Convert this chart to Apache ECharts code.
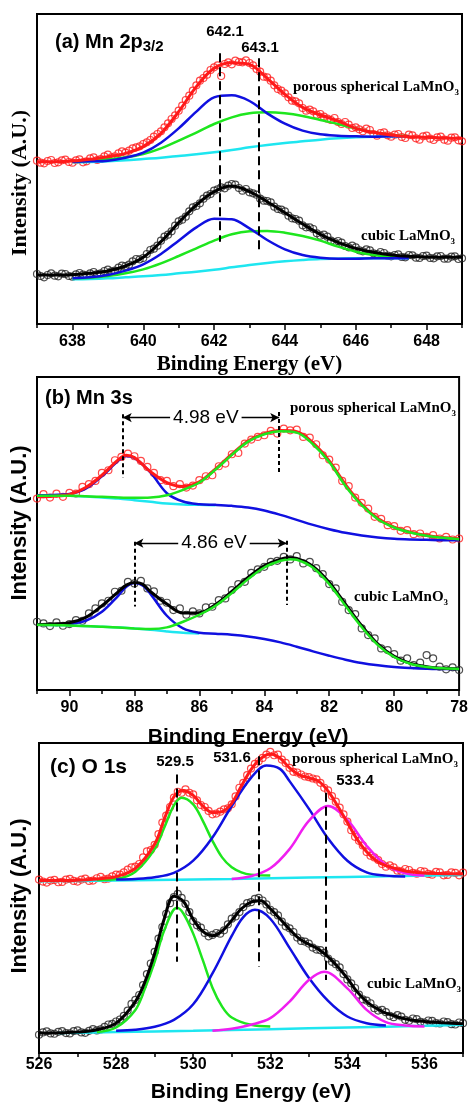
<!DOCTYPE html>
<html>
<head>
<meta charset="utf-8">
<title>XPS spectra of porous spherical and cubic LaMnO3</title>
<script src="https://cdn.jsdelivr.net/npm/echarts@6/dist/echarts.min.js"></script>
<style>
  html, body { margin: 0; padding: 0; background: #fff; }
  #chart { width: 471px; height: 1104px; }
</style>
</head>
<body>
<div id="chart"></div>
<script>
// ---------- (a) Mn 2p3/2 ----------
// raw scans, 0.1 eV apart starting at 637 eV
const aPorousScan = [490,484,482,489,492,483,485,491,493,486,
  484,491,494,485,488,497,500,492,495,503,
  508,500,503,512,518,514,520,527,530,533,
  540,545,552,562,570,578,590,602,615,626,
  640,655,672,685,700,716,730,738,748,762,
  770,776,744,780,785,779,790,786,785,791,
  783,776,765,757,742,740,730,716,705,700,
  692,680,670,668,662,648,640,643,638,628,
  630,622,616,612,618,606,600,606,598,588,
  590,584,578,586,582,570,565,573,575,566,
  562,568,570,561,558,568,566,557,553,563,
  565,556,552,560,562,553,550,559,560,551,548];
const aCubicScan = [150,144,140,147,152,145,143,151,150,144,
  142,149,153,148,146,152,156,150,152,159,
  163,158,160,169,175,174,178,188,195,194,
  198,210,222,226,235,250,262,268,278,295,
  308,313,322,338,350,354,362,376,385,390,
  400,404,410,407,415,420,418,408,400,405,
  395,392,388,376,370,369,365,352,345,343,
  338,325,317,315,310,296,290,290,285,272,
  265,268,262,250,246,249,244,234,230,235,
  230,221,218,224,221,212,210,216,213,205,
  203,207,209,201,200,207,206,199,198,204,
  205,198,197,203,204,196,196,202,203,195,197];
// fitted curves [energy, intensity]
const aPorousFit = [[637,487],[637.5,487],[638,489],[638.5,494],[639,502],[639.5,512],[640,532],[640.5,572],[641,637],[641.5,712],[642,767],[642.5,784],[643,779],[643.5,737],[644,689],[644.5,650],[645,627],[645.5,609],[646,587],[646.5,575],[647,567],[647.5,562],[648,560],[648.5,558],[649,557]];
const aPorousMn3 = [[638,487],[638.5,488],[639,490],[639.5,499],[640,514],[640.5,544],[641,587],[641.5,637],[642,680],[642.5,686],[643,669],[643.5,632],[644,601],[644.5,580],[645,569],[645.5,565],[646,563],[646.5,562],[647,563],[647.5,563]];
const aPorousMn4 = [[638,487],[638.5,490],[639,494],[639.5,500],[640,510],[640.5,527],[641,550],[641.5,574],[642,600],[642.5,620],[643,632],[643.5,635],[644,632],[644.5,624],[645,612],[645.5,600],[646,587],[646.5,575],[647,567],[647.5,563]];
const aPorousBase = [[638,485],[638.5,486],[639,488],[639.5,491],[640,495],[640.5,499],[641,504],[641.5,509],[642,515],[642.5,522],[643,530],[643.5,537],[644,543],[644.5,548],[645,553],[645.5,557],[646,560],[646.5,562],[647,563],[647.5,563]];
const aCubicFit = [[637,147],[637.5,147],[638,148],[638.5,152],[639,159],[639.5,174],[640,200],[640.5,247],[641,304],[641.5,357],[642,397],[642.5,414],[643,397],[643.5,367],[644,334],[644.5,300],[645,269],[645.5,245],[646,227],[646.5,215],[647,207],[647.5,203],[648,201],[648.5,200],[649,200]];
const aCubicMn3 = [[638,137],[638.5,140],[639,147],[639.5,160],[640,179],[640.5,210],[641,250],[641.5,290],[642,316],[642.5,314],[643,287],[643.5,252],[644,224],[644.5,207],[645,199],[645.5,196],[646,196],[646.5,197],[647,197],[647.5,197]];
const aCubicMn4 = [[638,137],[638.5,139],[639,144],[639.5,152],[640,164],[640.5,182],[641,204],[641.5,227],[642,250],[642.5,269],[643,278],[643.5,279],[644,274],[644.5,264],[645,250],[645.5,232],[646,217],[646.5,207],[647,201],[647.5,198]];
const aCubicBase = [[638,134],[638.5,135],[639,137],[639.5,140],[640,143],[640.5,147],[641,152],[641.5,157],[642,163],[642.5,170],[643,177],[643.5,183],[644,188],[644.5,192],[645,195],[645.5,196],[646,197],[646.5,197],[647,197],[647.5,197]];
const aPeakAt = [642.15, 643.25];
const aPeakSpan = [[812, 247], [797, 217]];
const aPeakLabels = ['642.1', '643.1'];
const aTicks = [638, 640, 642, 644, 646, 648];
const aMinor = [637, 639, 641, 643, 645, 647, 649];

// ---------- (b) Mn 3s ----------
// raw scans, 0.2 eV apart going down from 91 eV
const bPorousScan = [575,588,578,590,580,592,590,610,618,628,652,660,690,700,710,702,688,670,652,630,
  628,612,618,608,614,630,642,645,672,680,708,712,740,752,760,765,778,770,785,780,
  782,760,758,738,705,692,668,628,612,578,562,545,520,514,495,492,478,480,468,470,
  460,465,455,460,452,455];
const bCubicScan = [205,200,192,203,193,198,210,208,230,245,260,268,295,298,325,320,328,305,296,268,
  262,240,245,226,236,230,248,250,270,275,300,318,325,352,362,370,385,388,400,392,
  402,380,385,366,348,318,305,265,240,228,185,165,155,125,120,108,88,95,75,82,
  105,95,70,62,68,60];
const bPorousFit = [[91,580],[90.5,582],[90,587],[89.5,608],[89,645],[88.5,691],[88.25,705],[88,698],[87.5,655],[87,623],[86.5,611],[86,625],[85.5,664],[85,708],[84.5,748],[84,770],[83.5,779],[83,776],[82.5,742],[82,688],[81.5,617],[81,558],[80.5,515],[80,489],[79.5,474],[79,464],[78.5,458],[78,454]];
const bPorousLow = [[91,585],[90.5,586],[90,589],[89.5,605],[89,642],[88.5,688],[88.25,703],[88,697],[87.5,653],[87,591],[86.5,566],[86,558],[85.5,556],[85,553],[84.5,548],[84,539],[83.5,526],[83,511],[82.5,496],[82,483],[81.5,472],[81,464],[80.5,458],[80,454],[79.5,452],[79,451],[78.5,450],[78,450]];
const bPorousHigh = [[91,583],[90.5,583],[90,583],[89.5,582],[89,580],[88.5,578],[88,577],[87.5,578],[87,585],[86.5,601],[86,623],[85.5,662],[85,706],[84.5,746],[84,768],[83.5,777],[83,773],[82.5,738],[82,685],[81.5,613],[81,555],[80.5,513],[80,488],[79.5,473],[79,463],[78.5,457],[78,453]];
const bPorousBase = [[91,585],[90,583],[89,578],[88.5,575],[88,570],[87.5,565],[87,560],[86.5,557],[86,556],[85.5,555]];
const bCubicFit = [[91,196],[90.5,198],[90,202],[89.5,218],[89,253],[88.5,295],[88.25,315],[88,323],[87.75,318],[87.5,295],[87,258],[86.5,231],[86,232],[85.5,257],[85,296],[84.5,338],[84,373],[83.5,393],[83.2,397],[83,395],[82.5,371],[82,323],[81.5,258],[81,193],[80.5,138],[80,101],[79.5,80],[79,70],[78.5,65],[78,63]];
const bCubicLow = [[91,196],[90.5,196],[90,199],[89.5,208],[89,235],[88.5,283],[88.25,310],[88,321],[87.75,314],[87.5,288],[87,223],[86.5,185],[86,172],[85.5,169],[85,166],[84.5,161],[84,153],[83.5,143],[83,130],[82.5,116],[82,103],[81.5,91],[81,81],[80.5,74],[80,69],[79.5,66],[79,64],[78.5,63],[78,63]];
const bCubicHigh = [[91,196],[90,194],[89,190],[88,185],[87.5,183],[87,188],[86.5,205],[86,226],[85.5,253],[85,291],[84.5,333],[84,368],[83.5,388],[83.2,393],[83,391],[82.5,367],[82,318],[81.5,253],[81,189],[80.5,135],[80,99],[79.5,79],[79,69],[78.5,65],[78,63]];
const bCubicBase = [[91,196],[90,194],[89,190],[88,185],[87.5,181],[87,176],[86.5,172],[86,170]];
const bPorousPeaks = [88.36, 83.54];
const bPorousSpan = [[828, 638], [835, 648]];
const bCubicPeaks = [88.0, 83.31];
const bCubicSpan = [[445, 251], [448, 255]];
const bSplits = ['4.98 eV', '4.86 eV'];
const bSplitY = [818, 441];
const bSplitMid = [85.8, 85.55];
const bTicks = [78, 80, 82, 84, 86, 88, 90];
const bMinor = [79, 81, 83, 85, 87, 89, 91];

// ---------- (c) O 1s ----------
// raw scans, 0.1 eV apart starting at 526 eV
const cPorousScan = [523,517,514,520,522,515,516,523,525,519,
  517,523,526,519,520,527,531,524,526,533,
  538,538,545,553,560,562,570,590,608,612,
  628,660,695,716,742,770,788,785,795,785,
  780,762,748,742,730,720,722,728,735,738,
  750,774,800,815,838,858,872,880,890,900,
  908,898,900,885,875,860,848,846,840,834,
  832,828,825,815,800,792,775,758,740,720,
  698,672,652,640,626,606,595,590,582,570,
  562,566,560,550,548,555,552,543,541,549,
  547,540,538,546,545,536,537,545,543,536,544];
const cCubicScan = [55,62,65,59,58,64,66,60,59,66,
  68,62,61,67,72,68,71,79,86,88,
  95,101,112,128,148,160,175,205,238,270,
  305,345,380,420,452,470,480,468,450,425,
  398,385,378,362,352,356,362,360,370,388,
  405,412,425,440,452,455,465,468,460,448,
  432,425,415,396,382,376,365,348,338,336,
  330,318,312,310,302,285,275,268,258,238,
  222,210,196,176,162,158,150,135,128,130,
  123,112,108,114,110,100,97,104,102,94,
  92,98,97,90,89,95,93,87,86,92,90];
const cPorousFit = [[526,520],[526.5,520],[527,521],[527.5,525],[528,532],[528.5,557],[529,630],[529.25,705],[529.5,773],[529.75,792],[530,777],[530.25,745],[530.5,725],[530.75,728],[531,753],[531.25,805],[531.5,855],[531.75,888],[532,902],[532.25,890],[532.5,860],[532.75,839],[533,830],[533.25,820],[533.5,790],[533.75,745],[534,695],[534.25,645],[534.5,607],[534.75,580],[535,565],[535.5,549],[536,543],[536.5,541],[537,540]];
const cPorousLattice = [[527.5,522],[528,525],[528.5,547],[529,615],[529.25,680],[529.5,747],[529.7,770],[530,750],[530.25,700],[530.5,640],[530.75,590],[531,560],[531.25,545],[531.5,538],[532,535]];
const cPorousAds = [[528,523],[528.5,525],[529,530],[529.5,543],[530,580],[530.5,650],[531,745],[531.5,830],[531.9,867],[532.25,857],[532.5,820],[533,737],[533.5,647],[534,580],[534.5,545],[535,535],[535.5,532]];
const cPorousWater = [[531,525],[531.5,533],[532,557],[532.5,615],[533,700],[533.5,745],[534,703],[534.5,625],[535,567],[535.5,542],[536,535]];
const cPorousBase = [[526,518],[527,519],[529,522],[531,525],[533,529],[535,533],[537,537]];
const cCubicFit = [[526,60],[526.5,61],[527,63],[527.5,70],[528,90],[528.5,155],[528.75,215],[529,300],[529.25,405],[529.5,473],[529.75,457],[530,403],[530.25,367],[530.5,354],[530.75,368],[531,400],[531.25,435],[531.5,455],[531.75,459],[532,435],[532.25,405],[532.5,373],[532.75,345],[533,328],[533.25,313],[533.5,290],[533.75,260],[534,225],[534.25,185],[534.5,155],[534.75,135],[535,120],[535.5,103],[536,95],[536.5,91],[537,88]];
const cCubicLattice = [[527.5,63],[528,77],[528.5,130],[528.75,195],[529,275],[529.25,370],[529.58,438],[529.75,420],[530,360],[530.25,280],[530.5,197],[530.75,140],[531,107],[531.5,85],[532,80]];
const cCubicAds = [[528,67],[528.5,70],[529,79],[529.5,100],[530,147],[530.5,240],[531,353],[531.3,410],[531.6,432],[532,405],[532.5,317],[533,227],[533.5,157],[534,110],[534.5,90],[535,83]];
const cCubicWater = [[530.5,67],[531,73],[531.5,85],[532,105],[532.5,155],[533,220],[533.4,245],[534,195],[534.5,130],[535,93],[535.5,83],[536,80]];
const cCubicBase = [[526.5,60],[528,63],[530,67],[532,72],[534,77],[536,82],[537,85]];
const cPeakAt = [529.58, 531.7, 533.45];
const cPeakSpan = [[840, 275], [895, 260], [785, 220]];
const cPeakLabels = ['529.5', '531.6', '533.4'];
const cTicks = [526, 528, 530, 532, 534, 536];
const cMinor = [527, 529, 531, 533, 535, 537];

const SANS = '"Liberation Sans", Arial, sans-serif';
const SERIF = '"Liberation Serif", "Times New Roman", serif';
const RED = '#ff1a1a', BLUE = '#1010e0', GREEN = '#1ee61e', CYAN = '#1ee6f0', MAGENTA = '#f01ef0';

function scan(e0, step, ys) {
  return ys.map((y, i) => [Math.round((e0 + i * step) * 100) / 100, y]);
}

function dots(g, color, pts) {
  return {
    type: 'scatter', xAxisIndex: g * 2, yAxisIndex: g, data: pts,
    symbol: 'circle', symbolSize: 7, silent: true, z: 2,
    itemStyle: { color: 'rgba(0,0,0,0)', borderColor: color, borderWidth: 1.2 }
  };
}

function curve(g, color, pts, width, extra) {
  return Object.assign({
    type: 'line', xAxisIndex: g * 2, yAxisIndex: g, data: pts, smooth: 0.35,
    showSymbol: false, symbol: 'none', silent: true, z: 3,
    lineStyle: { color: color, width: width }
  }, extra || {});
}

function dashes(xs, spans, dash) {
  return {
    symbol: 'none', silent: true, label: { show: false },
    lineStyle: { color: '#000', width: 2, type: dash },
    emphasis: { disabled: true },
    data: xs.map((x, i) => [{ coord: [x, spans[i][0]] }, { coord: [x, spans[i][1]] }])
  };
}

function xAxes(g, min, max, inverse, majors, minors, margin, nameGap, nameFont) {
  const tickLine = { color: '#000', width: 1.5 };
  return [
    {
      type: 'value', gridIndex: g, min: min, max: max, inverse: inverse, position: 'bottom',
      axisLine: { show: true, onZero: false, lineStyle: { color: '#000', width: 2 } },
      axisTick: { show: true, inside: false, length: 6, customValues: majors, lineStyle: tickLine },
      axisLabel: { customValues: majors, margin: margin, color: '#000', fontFamily: SANS, fontWeight: 'bold', fontSize: 16 },
      splitLine: { show: false },
      name: 'Binding Energy (eV)', nameLocation: 'middle', nameGap: nameGap,
      nameTextStyle: { color: '#000', fontFamily: nameFont, fontWeight: 'bold', fontSize: 21 }
    },
    {
      type: 'value', gridIndex: g, min: min, max: max, inverse: inverse, position: 'bottom',
      axisLine: { show: false },
      axisTick: { show: true, inside: false, length: 4, customValues: minors, lineStyle: tickLine },
      axisLabel: { show: false }, splitLine: { show: false }
    }
  ];
}

function yAxis(g, max) {
  return { type: 'value', gridIndex: g, min: 0, max: max, show: false };
}

function text(x, y, s, size, font, align) {
  return {
    type: 'text', x: x, y: y, silent: true, z: 10,
    style: {
      text: s, fill: '#000', fontSize: size, fontFamily: font, fontWeight: 'bold',
      align: align || 'left', verticalAlign: 'middle'
    }
  };
}

// main text followed by a lowered subscript
function subText(x, y, main, sub, size, subSize, font, drop) {
  return {
    type: 'text', x: x, y: y, silent: true, z: 10,
    style: {
      text: '{m|' + main + '}{s|' + sub + '}', align: 'left', verticalAlign: 'middle',
      rich: {
        m: { fontSize: size, fontFamily: font, fontWeight: 'bold', fill: '#000', lineHeight: subSize + 2 * drop },
        s: { fontSize: subSize, fontFamily: font, fontWeight: 'bold', fill: '#000', lineHeight: subSize, verticalAlign: 'bottom' }
      }
    }
  };
}

function yName(x, y, font) {
  return {
    type: 'text', x: x, y: y, rotation: Math.PI / 2, silent: true, z: 10,
    style: {
      text: 'Intensity (A.U.)', fill: '#000', fontSize: 22, fontFamily: font, fontWeight: 'bold',
      align: 'center', verticalAlign: 'middle'
    }
  };
}

const chart = echarts.init(document.getElementById('chart'), null, { renderer: 'canvas' });

const gridStyle = { show: true, borderColor: '#000', borderWidth: 2, backgroundColor: 'transparent' };

chart.setOption({
  animation: false,
  backgroundColor: '#fff',
  grid: [
    Object.assign({ left: 37, top: 14, width: 425, height: 310 }, gridStyle),
    Object.assign({ left: 37, top: 377, width: 423, height: 313 }, gridStyle),
    Object.assign({ left: 39, top: 743, width: 424, height: 312 }, gridStyle)
  ],
  xAxis: [].concat(
    xAxes(0, 637, 649, false, aTicks, aMinor, 10, 30, SERIF),
    xAxes(1, 78, 91, true, bTicks, bMinor, 10, 37, SANS),
    xAxes(2, 526, 537, false, cTicks, cMinor, 4, 29, SANS)
  ),
  yAxis: [yAxis(0, 930), yAxis(1, 940), yAxis(2, 935)],
  series: [
    // (a)
    dots(0, RED, scan(637, 0.1, aPorousScan)),
    dots(0, '#222', scan(637, 0.1, aCubicScan)),
    curve(0, CYAN, aPorousBase, 2.5),
    curve(0, GREEN, aPorousMn4, 2.5),
    curve(0, BLUE, aPorousMn3, 2.5),
    curve(0, CYAN, aCubicBase, 2.5),
    curve(0, GREEN, aCubicMn4, 2.5),
    curve(0, BLUE, aCubicMn3, 2.5),
    curve(0, RED, aPorousFit, 3),
    curve(0, '#000', aCubicFit, 3, { markLine: dashes(aPeakAt, aPeakSpan, [9, 5]) }),
    // (b)
    dots(1, RED, scan(91, -0.2, bPorousScan)),
    dots(1, '#222', scan(91, -0.2, bCubicScan)),
    curve(1, CYAN, bPorousBase, 2.5),
    curve(1, CYAN, bCubicBase, 2.5),
    curve(1, BLUE, bPorousLow, 2.5),
    curve(1, BLUE, bCubicLow, 2.5),
    curve(1, RED, bPorousFit, 3),
    curve(1, '#000', bCubicFit, 3, {
      markLine: dashes(bPorousPeaks.concat(bCubicPeaks), bPorousSpan.concat(bCubicSpan), [4, 3])
    }),
    curve(1, GREEN, bPorousHigh, 2.5, {
      markLine: {
        symbol: ['arrow', 'arrow'], symbolSize: [7, 9], silent: true, label: { show: false },
        lineStyle: { color: '#000', width: 1.3, type: 'solid' },
        data: [
          [{ coord: [bPorousPeaks[0], bSplitY[0]] }, { coord: [bPorousPeaks[1], bSplitY[0]] }],
          [{ coord: [bCubicPeaks[0], bSplitY[1]] }, { coord: [bCubicPeaks[1], bSplitY[1]] }]
        ]
      },
      markPoint: {
        symbol: 'rect', symbolSize: 0.1, silent: true,
        itemStyle: { color: 'rgba(0,0,0,0)' },
        label: {
          show: true, position: 'inside', formatter: '{b}', color: '#000',
          fontFamily: SANS, fontSize: 19, backgroundColor: '#fff', padding: [0, 3]
        },
        data: bSplits.map((s, i) => ({ name: s, coord: [bSplitMid[i], bSplitY[i]] }))
      }
    }),
    curve(1, GREEN, bCubicHigh, 2.5),
    // (c)
    dots(2, RED, scan(526, 0.1, cPorousScan)),
    dots(2, '#222', scan(526, 0.1, cCubicScan)),
    curve(2, CYAN, cPorousBase, 2.5),
    curve(2, GREEN, cPorousLattice, 2.5),
    curve(2, BLUE, cPorousAds, 2.5),
    curve(2, MAGENTA, cPorousWater, 2.5),
    curve(2, CYAN, cCubicBase, 2.5),
    curve(2, GREEN, cCubicLattice, 2.5),
    curve(2, BLUE, cCubicAds, 2.5),
    curve(2, MAGENTA, cCubicWater, 2.5),
    curve(2, RED, cPorousFit, 3),
    curve(2, '#000', cCubicFit, 3, { markLine: dashes(cPeakAt, cPeakSpan, [9, 5]) })
  ],
  graphic: [
    // (a)
    subText(55, 42, '(a) Mn 2p', '3/2', 20, 15, SANS, 5),
    text(225, 32, aPeakLabels[0], 15, SANS, 'center'),
    text(260, 48, aPeakLabels[1], 15, SANS, 'center'),
    subText(293, 87, 'porous spherical LaMnO', '3', 15, 9, SERIF, 6),
    subText(361, 236, 'cubic LaMnO', '3', 15, 9, SERIF, 6),
    yName(20, 183, SERIF),
    // (b)
    text(45, 398, '(b) Mn 3s', 20, SANS),
    subText(290, 408, 'porous spherical LaMnO', '3', 15, 9, SERIF, 6),
    subText(354, 597, 'cubic LaMnO', '3', 15, 9, SERIF, 6),
    yName(20, 523, SANS),
    // (c)
    text(50, 767, '(c) O 1s', 21, SANS),
    text(175, 762, cPeakLabels[0], 15, SANS, 'center'),
    text(232, 758, cPeakLabels[1], 15, SANS, 'center'),
    text(355, 781, cPeakLabels[2], 15, SANS, 'center'),
    subText(292, 759, 'porous spherical LaMnO', '3', 15, 9, SERIF, 6),
    subText(367, 984, 'cubic LaMnO', '3', 15, 9, SERIF, 6),
    yName(20, 896, SANS)
  ]
});
</script>
</body>
</html>
